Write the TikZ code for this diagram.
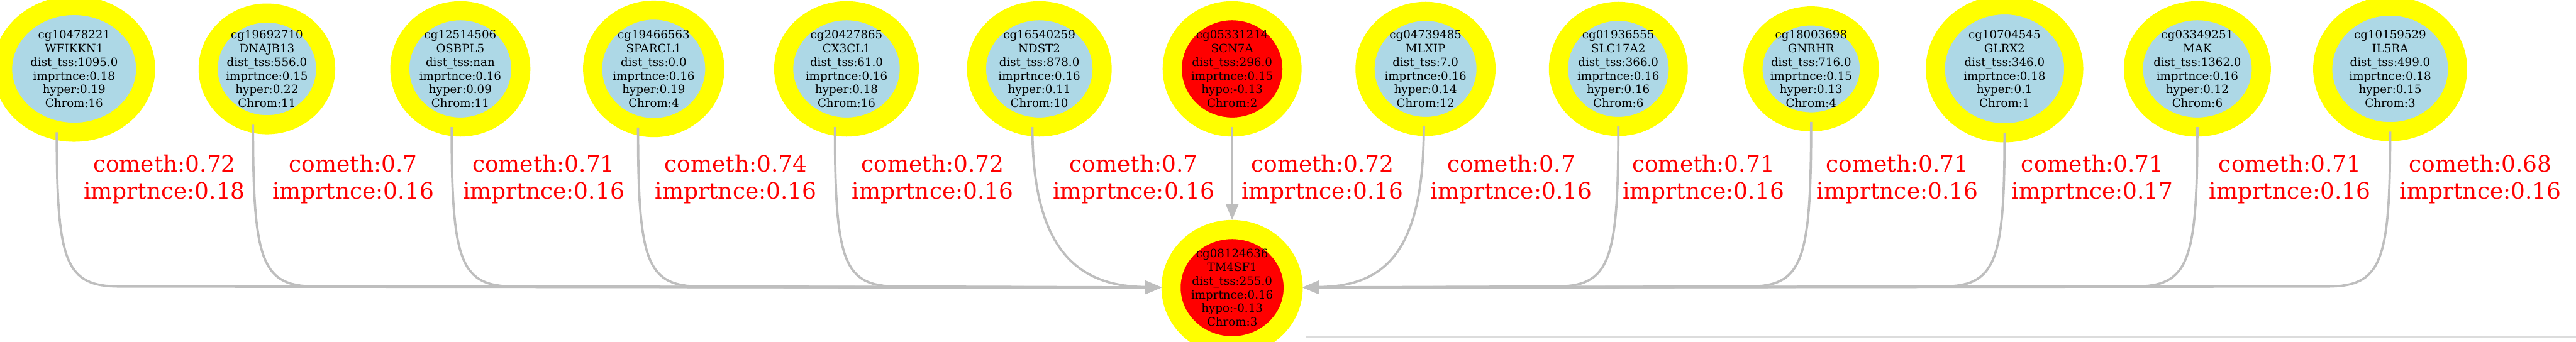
\documentclass[tikz,border=0pt]{standalone}
\usepackage{fontspec}
\setmainfont{DejaVu Serif}
\usetikzlibrary{shapes.geometric,arrows.meta}
\definecolor{gvblue}{HTML}{ADD8E6}
\definecolor{gvyellow}{HTML}{FFFF00}
\definecolor{gvred}{HTML}{FF0000}
\definecolor{gvgray}{HTML}{BEBEBE}
\definecolor{rulegray}{HTML}{DCDCDC}
\tikzset{
  cpg/.style={ellipse, draw=gvyellow, line width=0.33cm, fill=gvblue, inner sep=0pt, outer sep=0pt},
  hypo/.style={cpg, fill=gvred},
  tgt/.style={ellipse, draw=gvyellow, line width=0.33cm, fill=gvred, inner sep=0pt},
  ntext/.style={align=center, inner sep=0pt, font=\fontsize{5.63}{6.74}\selectfont, text=black},
  elab/.style={align=center, inner sep=0pt, font=\fontsize{11.1}{13.4}\selectfont, text=gvred},
  conn/.style={draw=gvgray, line width=0.04cm, -{Triangle[length=0.28cm,width=0.22cm]}},
}
\begin{document}
\begin{tikzpicture}
\useasboundingbox (0,0) rectangle (44.49,-5.90);
\clip (0,0) rectangle (44.49,-5.90);
% faint bottom rule
\coordinate (r1) at (22.55,-5.82);
\coordinate (r2) at (44.49,-5.82);
\draw[rulegray, line width=0.02cm] (r1) -- (r2);
% top nodes
\node[cpg, minimum width=2.47cm, minimum height=2.19cm, label={[ntext]center:cg10478221\\WFIKKN1\\dist\_tss:1095.0\\imprtnce:0.18\\hyper:0.19\\Chrom:16}] (n1) at (1.28,-1.19) {};
\node[cpg, minimum width=2.03cm, minimum height=1.93cm, label={[ntext]center:cg19692710\\DNAJB13\\dist\_tss:556.0\\imprtnce:0.15\\hyper:0.22\\Chrom:11}] (n2) at (4.61,-1.19) {};
\node[cpg, minimum width=2.09cm, minimum height=2.01cm, label={[ntext]center:cg12514506\\OSBPL5\\dist\_tss:nan\\imprtnce:0.16\\hyper:0.09\\Chrom:11}] (n3) at (7.95,-1.19) {};
\node[cpg, minimum width=2.11cm, minimum height=2.03cm, label={[ntext]center:cg19466563\\SPARCL1\\dist\_tss:0.0\\imprtnce:0.16\\hyper:0.19\\Chrom:4}] (n4) at (11.29,-1.19) {};
\node[cpg, minimum width=2.17cm, minimum height=2.01cm, label={[ntext]center:cg20427865\\CX3CL1\\dist\_tss:61.0\\imprtnce:0.16\\hyper:0.18\\Chrom:16}] (n5) at (14.62,-1.19) {};
\node[cpg, minimum width=2.17cm, minimum height=2.01cm, label={[ntext]center:cg16540259\\NDST2\\dist\_tss:878.0\\imprtnce:0.16\\hyper:0.11\\Chrom:10}] (n6) at (17.95,-1.19) {};
\node[hypo, minimum width=2.07cm, minimum height=2.01cm, label={[ntext]center:cg05331214\\SCN7A\\dist\_tss:296.0\\imprtnce:0.15\\hypo:-0.13\\Chrom:2}] (n7) at (21.28,-1.19) {};
\node[cpg, minimum width=2.09cm, minimum height=1.99cm, label={[ntext]center:cg04739485\\MLXIP\\dist\_tss:7.0\\imprtnce:0.16\\hyper:0.14\\Chrom:12}] (n8) at (24.62,-1.19) {};
\node[cpg, minimum width=2.07cm, minimum height=1.99cm, label={[ntext]center:cg01936555\\SLC17A2\\dist\_tss:366.0\\imprtnce:0.16\\hyper:0.16\\Chrom:6}] (n9) at (27.95,-1.19) {};
\node[cpg, minimum width=2.01cm, minimum height=1.83cm, label={[ntext]center:cg18003698\\GNRHR\\dist\_tss:716.0\\imprtnce:0.15\\hyper:0.13\\Chrom:4}] (n10) at (31.28,-1.19) {};
\node[cpg, minimum width=2.39cm, minimum height=2.21cm, label={[ntext]center:cg10704545\\GLRX2\\dist\_tss:346.0\\imprtnce:0.18\\hyper:0.1\\Chrom:1}] (n11) at (34.62,-1.19) {};
\node[cpg, minimum width=2.21cm, minimum height=2.01cm, label={[ntext]center:cg03349251\\MAK\\dist\_tss:1362.0\\imprtnce:0.16\\hyper:0.12\\Chrom:6}] (n12) at (37.95,-1.19) {};
\node[cpg, minimum width=2.33cm, minimum height=2.17cm, label={[ntext]center:cg10159529\\IL5RA\\dist\_tss:499.0\\imprtnce:0.18\\hyper:0.15\\Chrom:3}] (n13) at (41.28,-1.19) {};
% target node
\node[tgt, minimum width=2.11cm, minimum height=2.01cm, label={[ntext]center:cg08124636\\TM4SF1\\dist\_tss:255.0\\imprtnce:0.16\\hypo:-0.13\\Chrom:3}] (b) at (21.28,-4.97) {};
% connectors
\draw[conn] ([xshift=-0.30cm]n1.south) .. controls (0.98,-4.55) and (1.13,-4.95) .. (2.08,-4.95) -- (b);
\draw[conn] ([xshift=-0.24cm]n2.south) .. controls (4.37,-4.55) and (4.52,-4.95) .. (5.47,-4.95) -- (b);
\draw[conn] ([xshift=-0.15cm]n3.south) .. controls (7.80,-4.55) and (7.95,-4.95) .. (8.90,-4.95) -- (b);
\draw[conn] ([xshift=-0.27cm]n4.south) .. controls (11.02,-4.55) and (11.17,-4.95) .. (12.12,-4.95) -- (b);
\draw[conn] ([xshift=-0.20cm]n5.south) .. controls (14.42,-4.55) and (14.57,-4.95) .. (15.52,-4.95) -- (b);
\draw[conn] ([xshift=-0.12cm]n6.south) .. controls (17.83,-4.30) and (18.60,-4.95) .. (b);
\draw[conn] (n7) -- (b);
\draw[conn] ([xshift=-0.03cm]n8.south) .. controls (24.59,-4.30) and (23.96,-4.95) .. (b);
\draw[conn] (n9.south) .. controls (27.95,-4.55) and (27.80,-4.95) .. (26.85,-4.95) -- (b);
\draw[conn] (n10.south) .. controls (31.28,-4.55) and (31.13,-4.95) .. (30.18,-4.95) -- (b);
\draw[conn] (n11.south) .. controls (34.62,-4.55) and (34.47,-4.95) .. (33.52,-4.95) -- (b);
\draw[conn] (n12.south) .. controls (37.95,-4.55) and (37.80,-4.95) .. (36.85,-4.95) -- (b);
\draw[conn] (n13.south) .. controls (41.28,-4.55) and (41.13,-4.95) .. (40.18,-4.95) -- (b);
% edge labels
\node[elab] (l1) at (2.84,-3.10) {cometh:0.72\\imprtnce:0.18};
\node[elab] (l2) at (6.10,-3.10) {cometh:0.7\\imprtnce:0.16};
\node[elab] (l3) at (9.39,-3.10) {cometh:0.71\\imprtnce:0.16};
\node[elab] (l4) at (12.71,-3.10) {cometh:0.74\\imprtnce:0.16};
\node[elab] (l5) at (16.11,-3.10) {cometh:0.72\\imprtnce:0.16};
\node[elab] (l6) at (19.58,-3.10) {cometh:0.7\\imprtnce:0.16};
\node[elab] (l7) at (22.84,-3.10) {cometh:0.72\\imprtnce:0.16};
\node[elab] (l8) at (26.10,-3.10) {cometh:0.7\\imprtnce:0.16};
\node[elab] (l9) at (29.42,-3.10) {cometh:0.71\\imprtnce:0.16};
\node[elab] (l10) at (32.77,-3.10) {cometh:0.71\\imprtnce:0.16};
\node[elab] (l11) at (36.14,-3.10) {cometh:0.71\\imprtnce:0.17};
\node[elab] (l12) at (39.55,-3.10) {cometh:0.71\\imprtnce:0.16};
\node[elab] (l13) at (42.84,-3.10) {cometh:0.68\\imprtnce:0.16};
\end{tikzpicture}
\end{document}
